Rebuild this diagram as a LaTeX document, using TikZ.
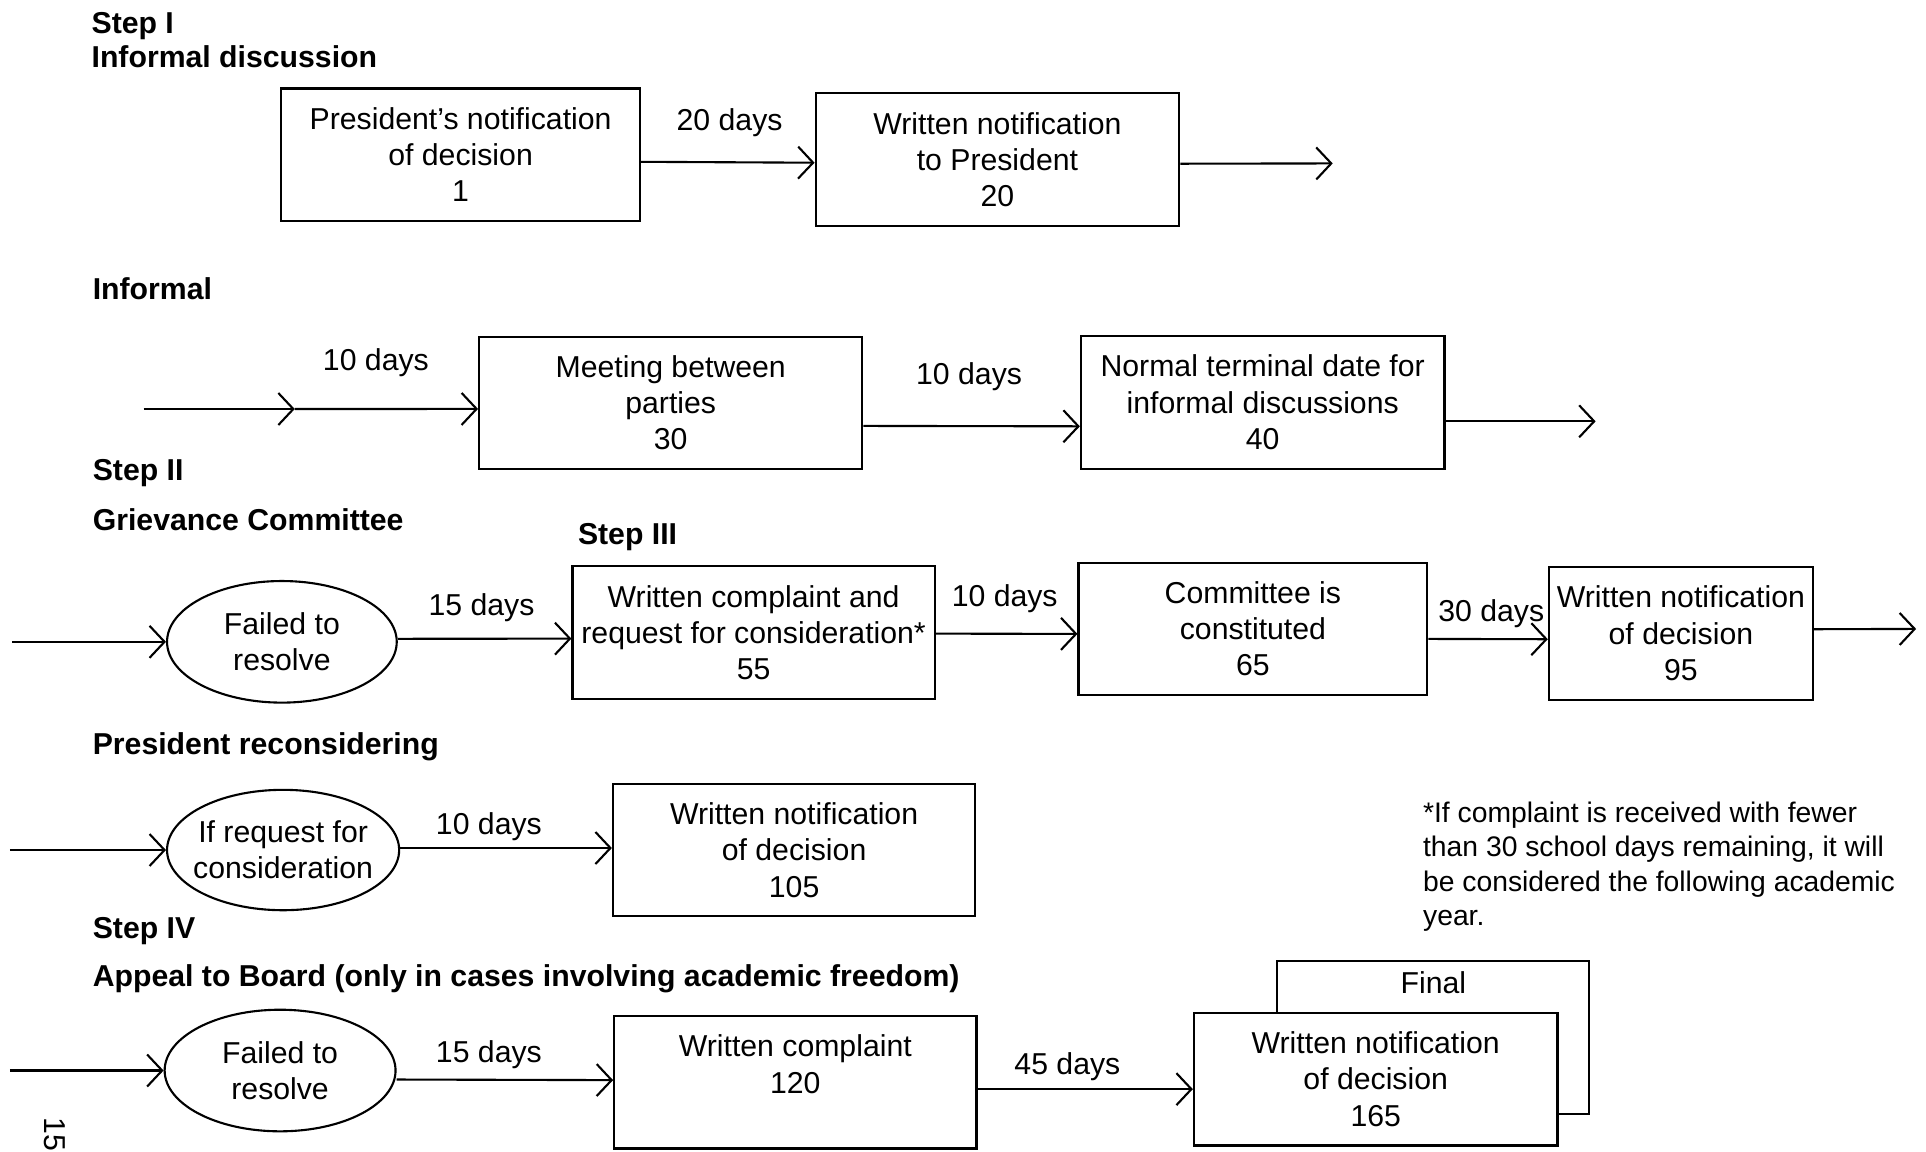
\documentclass[tikz,border=0pt]{standalone}
\usepackage{fontspec}
\setmainfont{Liberation Sans}
\usetikzlibrary{arrows.meta,shapes.geometric}

\newcommand{\txt}{\fontsize{8.6}{10.3}\selectfont}

\tikzset{
  box/.style={draw, line width=0.6pt, fill=white, align=center, inner sep=0pt,
    minimum height=1.327cm, font=\txt},
  oval/.style={draw, ellipse, line width=0.6pt, inner sep=0pt,
    minimum width=2.31cm, minimum height=1.21cm,
    label={[align=center, font=\txt]center:#1}},
  flow/.style={line width=0.6pt, -{Straight Barb[length=1.5mm,width=3.2mm]}},
  hdr/.style={anchor=base west, inner sep=0pt, font=\bfseries\txt},
  lbl/.style={anchor=base, inner sep=0pt, font=\txt},
}

\begin{document}
\begin{tikzpicture}
      \useasboundingbox (0,0) rectangle (19.26,-11.51);
      % headings
      \node[hdr] (s1) at (0.909,-0.332) {Step I};
      \node[hdr] (s1t) at (0.909,-0.676) {Informal discussion};
      \node[hdr] (inf) at (0.921,-2.997) {Informal};
      \node[hdr] (s2) at (0.921,-4.803) {Step II};
      \node[hdr] (s2t) at (0.921,-5.306) {Grievance Committee};
      \node[hdr] (s3) at (5.773,-5.441) {Step III};
      \node[hdr] (prc) at (0.921,-7.542) {President reconsidering};
      \node[hdr] (s4) at (0.921,-9.384) {Step IV};
      \node[hdr] (s4t) at (0.921,-9.863) {Appeal to Board (only in cases involving academic freedom)};
      % step I
      \node[box,minimum width=3.587cm] (b1) at (4.606,-1.548) {President’s notification\\of decision\\1};
      \node[box,minimum width=3.636cm] (b2) at (9.974,-1.597) {Written notification\\to President\\20};
      \coordinate (o1) at (13.327,-1.634);
      \draw[flow] ([yshift=-0.07cm]b1.east) -- ([yshift=-0.03cm]b2.west);
      \draw[flow] ([yshift=-0.04cm]b2.east) -- (o1);
      \node[lbl] (d1) at (7.296,-1.302) {20 days};
      % informal
      \node[box,minimum width=3.832cm] (b3) at (6.707,-4.029) {Meeting between\\parties\\30};
      \node[box,minimum width=3.636cm] (b4) at (12.627,-4.023) {Normal terminal date for\\informal discussions\\40};
      \coordinate (i2) at (1.437,-4.090);
      \coordinate (m2) at (2.948,-4.090);
      \coordinate (o2) at (15.956,-4.213);
      \draw[flow] (i2) -- (m2);
      \draw[flow] (m2) -- ([yshift=-0.06cm]b3.west);
      \draw[flow] ([yshift=-0.23cm]b3.east) -- ([yshift=-0.24cm]b4.west);
      \draw[flow] ([yshift=-0.19cm]b4.east) -- (o2);
      \node[lbl] (d2) at (3.759,-3.709) {10 days};
      \node[lbl] (d3) at (9.691,-3.844) {10 days};
      % step II / III
      \node[oval={Failed to\\resolve},minimum width=2.297cm,minimum height=1.216cm] (e1) at (2.819,-6.418) {};
      \node[box,minimum width=3.623cm] (b5) at (7.536,-6.326) {Written complaint and\\request for consideration*\\55};
      \node[box,minimum width=3.488cm] (b6) at (12.529,-6.289) {Committee is\\constituted\\65};
      \node[box,minimum width=2.641cm] (b7) at (16.809,-6.332) {Written notification\\of decision\\95};
      \coordinate (i3) at (0.123,-6.418);
      \coordinate (o3) at (19.161,-6.289);
      \draw[flow] (i3) -- (e1.west);
      \draw[flow] ([yshift=0.03cm]e1.east) -- ([yshift=-0.06cm]b5.west);
      \draw[flow] ([yshift=-0.01cm]b5.east) -- ([yshift=-0.05cm]b6.west);
      \draw[flow] ([yshift=-0.10cm]b6.east) -- ([yshift=-0.06cm]b7.west);
      \draw[flow] ([yshift=0.04cm]b7.east) -- (o3);
      \node[lbl] (d4) at (4.815,-6.154) {15 days};
      \node[lbl] (d5) at (10.047,-6.068) {10 days};
      \node[lbl] (d6) at (14.912,-6.216) {30 days};
      % president reconsidering
      \node[oval={If request for\\consideration},minimum width=2.321cm,minimum height=1.204cm] (e2) at (2.831,-8.500) {};
      \node[box,minimum width=3.623cm] (b8) at (7.941,-8.500) {Written notification\\of decision\\105};
      \coordinate (i4) at (0.098,-8.500);
      \draw[flow] (i4) -- (e2.west);
      \draw[flow] ([yshift=0.02cm]e2.east) -- ([yshift=0.02cm]b8.west);
      \node[lbl] (d7) at (4.889,-8.340) {10 days};
      \node[anchor=north west, inner sep=0pt, align=left, font=\fontsize{8.05}{9.8}\selectfont] (fn) at (14.224,-8.009)
        {*If complaint is received with fewer\\than 30 school days remaining, it will\\be considered the following academic\\year.};
      % step IV
      \node[oval={Failed to\\resolve},minimum width=2.309cm,minimum height=1.216cm] (e3) at (2.801,-10.705) {};
      \node[box,minimum width=3.623cm] (b9) at (7.953,-10.821) {Written complaint\\120\\~};
      \node[draw, line width=0.6pt, minimum width=3.120cm, minimum height=1.535cm,
        label={[anchor=north,font=\txt]north:Final}] (fin) at (14.334,-10.373) {};
      \node[box,minimum width=3.636cm] (b10) at (13.757,-10.791) {Written notification\\of decision\\165};
      \coordinate (i5) at (0.098,-10.705);
      \draw[flow] (i5) -- (e3.west);
      \draw[flow] ([yshift=-0.09cm]e3.east) -- ([yshift=0.02cm]b9.west);
      \draw[flow] ([yshift=-0.07cm]b9.east) -- ([yshift=-0.10cm]b10.west);
      \node[lbl] (d8) at (4.889,-10.625) {15 days};
      \node[lbl] (d9) at (10.674,-10.748) {45 days};
      \node[rotate=-90, inner sep=0pt, font=\txt] (pg) at (0.55,-11.34) {15};
    \end{tikzpicture}
\end{document}
